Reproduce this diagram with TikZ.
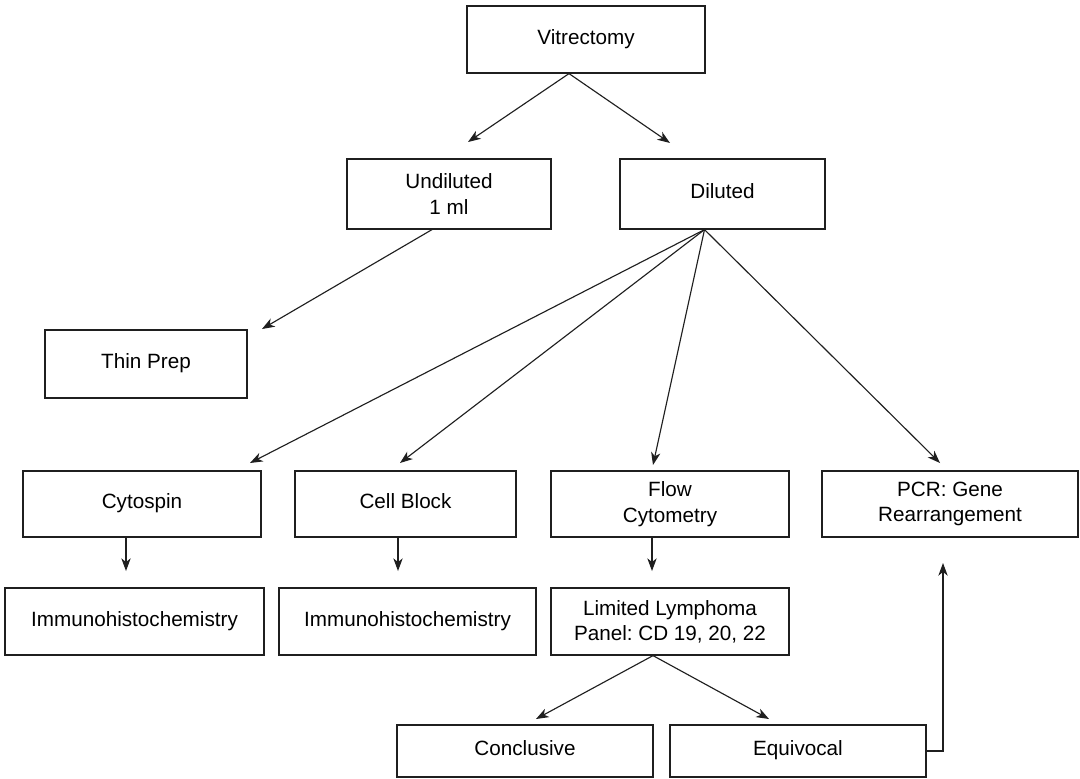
\documentclass[tikz,border=0pt]{standalone}
\usepackage{fontspec}
\setmainfont{Liberation Sans}
\usetikzlibrary{arrows.meta}
\begin{document}
\frenchspacing
\begin{tikzpicture}[x=0.75pt,y=-0.75pt,
  box/.style 2 args={draw=black!88, line width=0.9pt, minimum width=#1*0.75pt, minimum height=#2*0.75pt,
    inner sep=0pt, align=center, font=\fontsize{15.5}{19}\selectfont},
  one/.style={text height=0.716em, text depth=0pt},
  arr/.style={draw=black!88, line width=0.85pt, -{Stealth[length=9.5pt,width=7pt,inset=2.8pt]}},
  link/.style={draw=black!88, line width=0.85pt}]
\useasboundingbox (0,0) rectangle (1080,778);
\fill[white] (0,0) rectangle (1080,778);
% boxes
\node[box={238}{67},one] (vit)  at (586,39.5)  {Vitrectomy};
\node[box={204}{70}] (und)  at (449,194)   {Undiluted\\1 ml};
\node[box={205}{70},one] (dil)  at (722.5,194) {Diluted};
\node[box={202}{68},one] (thin) at (146,364)   {Thin Prep};
\node[box={238}{66},one] (cyto) at (142,504)   {Cytospin};
\node[box={221}{66},one] (cell) at (405.5,504) {Cell Block};
\node[box={238}{66}] (flow) at (670,504)   {Flow\\Cytometry};
\node[box={256}{66}] (pcr)  at (950,504)   {PCR: Gene\\Rearrangement};
\node[box={259}{67},one] (imm1) at (134.5,621.5) {Immunohistochemistry};
\node[box={257}{67},one] (imm2) at (407.5,621.5) {Immunohistochemistry};
\node[box={238}{67}] (lim)  at (670,621.5) {Limited Lymphoma\\Panel: CD 19, 20, 22};
\node[box={256}{52},one] (conc) at (525,751)   {Conclusive};
\node[box={256}{52},one] (equi) at (798,751)   {Equivocal};
% free arrow ends
\coordinate (tUnd)  at (468,142);
\coordinate (tDil)  at (670,143);
\coordinate (tThin) at (262,329);
\coordinate (tCyto) at (250,463);
\coordinate (tCell) at (400,463);
\coordinate (tFlow) at (653,465);
\coordinate (tPcr)  at (940,463);
\coordinate (tImm1) at (126,571);
\coordinate (tImm2) at (398,571);
\coordinate (tLim)  at (652,571);
\coordinate (tConc) at (536,719);
\coordinate (tEqui) at (769,719);
\coordinate (tPcrB) at (943,563);
% start points
\coordinate (sVit) at ([xshift=-12.75pt]vit.south);
\coordinate (sUnd) at ([xshift=-12.75pt]und.south);
\coordinate (sDil) at ([xshift=-13.5pt]dil.south);
\coordinate (sLim) at ([xshift=-12.75pt]lim.south);
% connectors
\draw[arr] (sVit) -- (tUnd);
\draw[arr] (sVit) -- (tDil);
\draw[arr] (sUnd) -- (tThin);
\draw[arr] (sDil) -- (tCyto);
\draw[arr] (sDil) -- (tCell);
\draw[arr] (sDil) -- (tFlow);
\draw[arr] (sDil) -- (tPcr);
\draw[arr] (cyto.south -| tImm1) -- (tImm1);
\draw[arr] (cell.south -| tImm2) -- (tImm2);
\draw[arr] (flow.south -| tLim) -- (tLim);
\draw[arr] (sLim) -- (tConc);
\draw[arr] (sLim) -- (tEqui);
\draw[arr] (equi.east) -| (tPcrB);
\end{tikzpicture}
\end{document}
